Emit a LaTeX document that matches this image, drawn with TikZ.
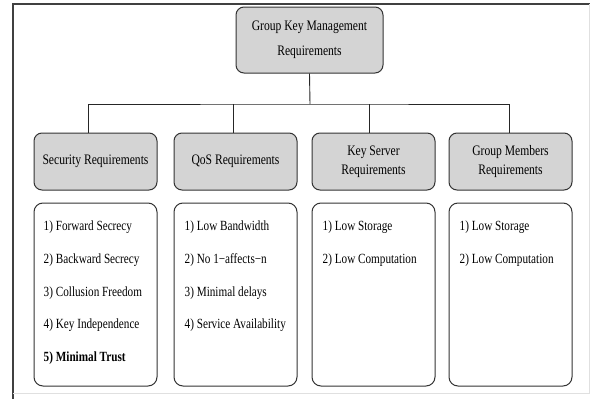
\documentclass[tikz,border=0pt]{standalone}
\usepackage{fontspec}
\setmainfont{Liberation Serif}[FakeStretch=0.8]
\usetikzlibrary{calc,positioning}

\begin{document}
\begin{tikzpicture}[x=1pt,y=-1pt]

\tikzstyle{reqhead} = [rectangle,rounded corners=8pt,draw=black!80,line width=1pt,fill=black!17,inner sep=2pt,align=center,font=\fontsize{14.5}{19}\selectfont,text=black]%
\tikzstyle{reqtop} = [reqhead,minimum width=147pt,minimum height=66pt,font=\fontsize{14.5}{25}\selectfont]%
\tikzstyle{reqsub} = [reqhead,minimum width=123pt,minimum height=57pt]%
\tikzstyle{reqlist} = [rectangle,rounded corners=9pt,draw=black!80,line width=1pt,fill=white,minimum width=123pt,minimum height=183pt]%
\tikzstyle{reqitems} = [anchor=north west,inner sep=0,align=left,font=\fontsize{14}{32.8}\selectfont]%
\tikzstyle{tree} = [draw=black!85,line width=0.9pt]%

\useasboundingbox (0,0) rectangle (590,399);

% frame
\draw[draw=black!75,line width=1.6pt] (13,399) -- (13,4) -- (590,4);
\draw[draw=black!12,line width=1pt] (13,393) -- (589,393) -- (589,4);

\node[reqtop] (gkm) at (309.5,40) {Group Key Management\\Requirements};

\node[reqsub] (secreq) at (95.5,161.5) {Security Requirements};
\node[reqsub] (qosreq) at (235.5,161.5) {QoS Requirements};
\node[reqsub] (ksreq) at (373.5,161.5) {Key Server\\Requirements};
\node[reqsub] (gmreq) at (510.5,161.5) {Group Members\\Requirements};

\coordinate (split) at (310,104);
\draw[tree] (gkm.south) -- (split);
\draw[tree] (secreq.north -| 88,0) |- (split) -| (509,0 |- gmreq.north);
\draw[tree] (qosreq.north -| 233,0) -- (233,104);
\draw[tree] (ksreq.north -| 369,0) -- (369,104);

\node[reqlist] (seclist) at (95.5,294.5) {};
\node[reqlist] (qoslist) at (235.5,294.5) {};
\node[reqlist] (kslist) at (373.5,294.5) {};
\node[reqlist] (gmlist) at (510.5,294.5) {};

\node[reqitems] (secitems) at ($(seclist.north west)+(10,18)$) {1) Forward Secrecy\\2) Backward Secrecy\\3) Collusion Freedom\\4) Key Independence\\\textbf{5) Minimal Trust}};
\node[reqitems] (qositems) at ($(qoslist.north west)+(11,18)$) {1) Low Bandwidth\\2) No 1−affects−n\\3) Minimal delays\\4) Service Availability};
\node[reqitems] (ksitems) at ($(kslist.north west)+(11,18)$) {1) Low Storage\\2) Low Computation};
\node[reqitems] (gmitems) at ($(gmlist.north west)+(11,18)$) {1) Low Storage\\2) Low Computation};

\end{tikzpicture}
\end{document}
